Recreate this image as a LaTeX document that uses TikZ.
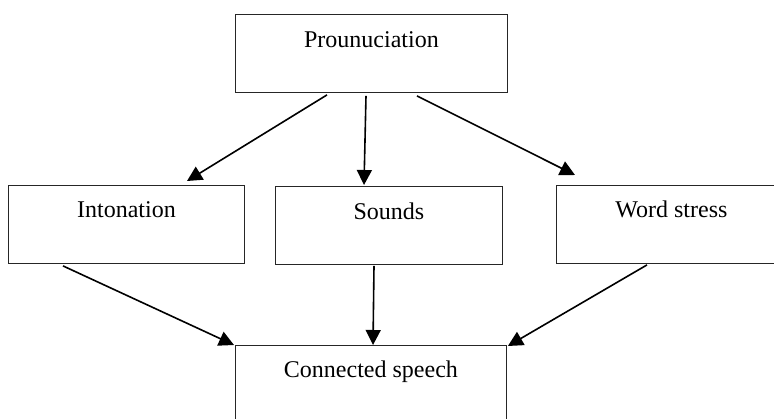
\documentclass[tikz,border=0pt]{standalone}
\usepackage{fontspec}
\setmainfont{Liberation Serif}
\usetikzlibrary{arrows.meta}
\begin{document}
\begin{tikzpicture}[x=1pt,y=-1pt,
  box/.style={draw=black!85, line width=0.9pt, rectangle, inner sep=0pt, anchor=north west,
    minimum height=78pt, text height=32pt, text depth=46pt,
    font=\fontsize{24}{28}\selectfont},
  conn/.style={line width=1.6pt, -{Triangle[length=15pt,width=15pt]}}]
\useasboundingbox (0,0) rectangle (774,418);
\clip (0,0) rectangle (774,418);
\node[box, minimum width=272pt, text height=33pt, text depth=45pt] (p) at (235,14) {Prounuciation};
\node[box, minimum width=236pt] (int) at (8,185) {Intonation};
\node[box, minimum width=227pt, text height=33pt, text depth=45pt] (snd) at (275,186) {Sounds};
\node[box, minimum width=230pt] (ws) at (556,185) {Word stress};
\node[box, minimum width=271pt] (cs) at (235,345) {Connected speech};
\draw[conn] ([shift={(92,2)}]p.south west) -- ([shift={(179,-4)}]int.north west);
\draw[conn] ([shift={(131,3)}]p.south west) -- ([shift={(89,-1)}]snd.north west);
\draw[conn] ([shift={(182,3)}]p.south west) -- ([shift={(19,-10)}]ws.north west);
\draw[conn] ([shift={(55,2)}]int.south west) -- ([shift={(-1,0)}]cs.north west);
\draw[conn] ([shift={(99,1)}]snd.south west) -- ([shift={(138,0)}]cs.north west);
\draw[conn] ([shift={(91,1)}]ws.south west) -- ([shift={(1,1)}]cs.north east);
\end{tikzpicture}
\end{document}
